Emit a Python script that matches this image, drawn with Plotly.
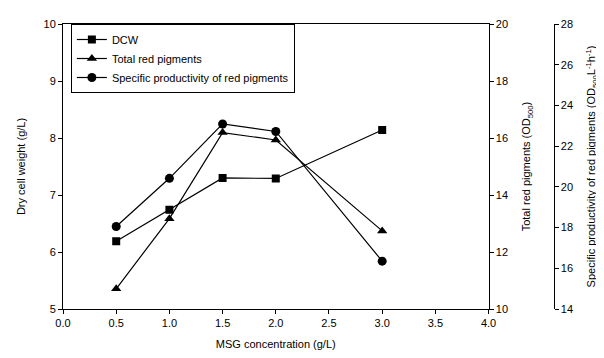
import plotly.graph_objects as go

msg = [0.5, 1.0, 1.5, 2.0, 3.0]
dcw = [6.19, 6.74, 7.30, 7.29, 8.14]
total_red = [10.71, 13.17, 16.19, 15.93, 12.74]
spec_prod = [18.05, 20.42, 23.09, 22.72, 16.35]

FONT = "Liberation Sans, Arial, sans-serif"
fig = go.Figure()
fig.add_trace(go.Scatter(x=msg, y=dcw, name="DCW", mode="lines+markers",
                         line=dict(color="black", width=1.2),
                         marker=dict(symbol="square", size=8, color="black")))
fig.add_trace(go.Scatter(x=msg, y=total_red, name="Total red pigments", mode="lines+markers",
                         yaxis="y2", line=dict(color="black", width=1.2),
                         marker=dict(symbol="triangle-up", size=9, color="black")))
fig.add_trace(go.Scatter(x=msg, y=spec_prod, name="Specific productivity of red pigments",
                         mode="lines+markers", yaxis="y3", line=dict(color="black", width=1.2),
                         marker=dict(symbol="circle", size=9, color="black")))

W, H = 604, 358
L, R, T, B = 55, 10, 13, 57
pw = W - L - R
dom = (487 - 55) / pw
pos3 = (553 - 55) / pw

axis_common = dict(showgrid=False, zeroline=False, showline=True, linecolor="black",
                   linewidth=1, ticks="outside", ticklen=4, tickcolor="black",
                   tickfont=dict(size=11, color="black", family=FONT))

fig.update_layout(
    width=W, height=H, margin=dict(l=L, r=R, t=T, b=B),
    paper_bgcolor="white", plot_bgcolor="white",
    font=dict(family=FONT, color="black", size=11),
    showlegend=True,
    legend=dict(x=(63 - 55) / pw, y=1.0, xanchor="left", yanchor="top",
                bordercolor="black", borderwidth=1, bgcolor="white",
                font=dict(size=11, family=FONT), tracegroupgap=0, itemwidth=30),
    xaxis=dict(domain=[0, dom], range=[0, 4], dtick=0.5, tickformat=".1f", mirror=True,
               title=dict(text="MSG concentration (g/L)", font=dict(size=11), standoff=12),
               **axis_common),
    yaxis=dict(range=[5, 10], dtick=1, title=dict(text="Dry cell weight (g/L)", font=dict(size=11)),
               **axis_common),
    yaxis2=dict(range=[10, 20], dtick=2, overlaying="y", side="right", anchor="x",
                title=dict(text="Total red pigments (OD<sub>500</sub>)", font=dict(size=11)),
                **axis_common),
    yaxis3=dict(range=[14, 28], dtick=2, overlaying="y", side="right", anchor="free",
                position=pos3,
                title=dict(text="Specific productivity of red pigments (OD<sub>500</sub>L<sup>-1</sup>h<sup>-1</sup>)",
                           font=dict(size=11)),
                **axis_common),
)
fig.write_html("out.html")
